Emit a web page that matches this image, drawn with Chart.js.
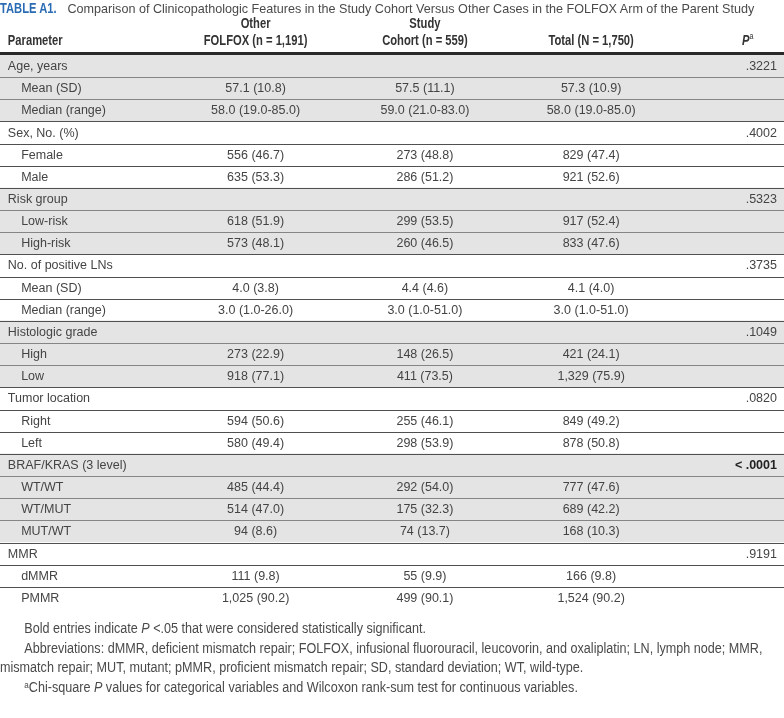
<!DOCTYPE html>
<html>
<head>
<meta charset="utf-8">
<script src="https://cdn.jsdelivr.net/npm/chart.js@4.4.1/dist/chart.umd.min.js"></script>
<style>
  body { margin: 0; background: #fff; }
  #wrap { position: relative; width: 784px; height: 718px; overflow: hidden; }
  #tableChart { position: absolute; left: 0; top: 0; }
  .title { position: absolute; left: 0; top: 0; font: 12.6px "Liberation Sans", Arial, sans-serif; color: #4a4a4a; white-space: nowrap; line-height: 16px; }
  .title b { display: inline-block; font-size: 14px; color: #2a6cb3; transform: scaleX(0.8); transform-origin: left; width: 64px; }
  .notes { position: absolute; left: 0; top: 619px; font: 14px "Liberation Sans", Arial, sans-serif; color: #4a4a4a; line-height: 19.5px; transform: scaleX(0.9); transform-origin: left top; }
  .notes p { margin: 0; text-indent: 27px; white-space: nowrap; }
  .notes sup { font-size: 9px; vertical-align: 4px; line-height: 0; }
</style>
</head>
<body>
<div id="wrap">
  <canvas id="tableChart" width="784" height="718"></canvas>
  <div class="title"><b>TABLE A1.</b> Comparison of Clinicopathologic Features in the Study Cohort Versus Other Cases in the FOLFOX Arm of the Parent Study</div>
  <div class="notes">
    <p>Bold entries indicate <i>P</i> &lt;.05 that were considered statistically significant.</p>
    <p>Abbreviations: dMMR, deficient mismatch repair; FOLFOX, infusional fluorouracil, leucovorin, and oxaliplatin; LN, lymph node; MMR,<br>mismatch repair; MUT, mutant; pMMR, proficient mismatch repair; SD, standard deviation; WT, wild-type.</p>
    <p><sup>a</sup>Chi-square <i>P</i> values for categorical variables and Wilcoxon rank-sum test for continuous variables.</p>
  </div>
</div>
<script>
// Table rows (top to bottom)
const rowLabels = [
    "Age, years", "Mean (SD)", "Median (range)",
    "Sex, No. (%)", "Female", "Male",
    "Risk group", "Low-risk", "High-risk",
    "No. of positive LNs", "Mean (SD)", "Median (range)",
    "Histologic grade", "High", "Low",
    "Tumor location", "Right", "Left",
    "BRAF/KRAS (3 level)", "WT/WT", "WT/MUT", "MUT/WT",
    "MMR", "dMMR", "PMMR"
];
// 1 = section heading row, 0 = indented sub row
const isHeading = [1,0,0, 1,0,0, 1,0,0, 1,0,0, 1,0,0, 1,0,0, 1,0,0,0, 1,0,0];
// 1 = gray shaded section
const shaded = [1,1,1, 0,0,0, 1,1,1, 0,0,0, 1,1,1, 0,0,0, 1,1,1,1, 0,0,0];

const otherFolfox = [
    "", "57.1 (10.8)", "58.0 (19.0-85.0)",
    "", "556 (46.7)", "635 (53.3)",
    "", "618 (51.9)", "573 (48.1)",
    "", "4.0 (3.8)", "3.0 (1.0-26.0)",
    "", "273 (22.9)", "918 (77.1)",
    "", "594 (50.6)", "580 (49.4)",
    "", "485 (44.4)", "514 (47.0)", "94 (8.6)",
    "", "111 (9.8)", "1,025 (90.2)"
];
const studyCohort = [
    "", "57.5 (11.1)", "59.0 (21.0-83.0)",
    "", "273 (48.8)", "286 (51.2)",
    "", "299 (53.5)", "260 (46.5)",
    "", "4.4 (4.6)", "3.0 (1.0-51.0)",
    "", "148 (26.5)", "411 (73.5)",
    "", "255 (46.1)", "298 (53.9)",
    "", "292 (54.0)", "175 (32.3)", "74 (13.7)",
    "", "55 (9.9)", "499 (90.1)"
];
const totalCohort = [
    "", "57.3 (10.9)", "58.0 (19.0-85.0)",
    "", "829 (47.4)", "921 (52.6)",
    "", "917 (52.4)", "833 (47.6)",
    "", "4.1 (4.0)", "3.0 (1.0-51.0)",
    "", "421 (24.1)", "1,329 (75.9)",
    "", "849 (49.2)", "878 (50.8)",
    "", "777 (47.6)", "689 (42.2)", "168 (10.3)",
    "", "166 (9.8)", "1,524 (90.2)"
];
const pValues = [
    ".3221", "", "",
    ".4002", "", "",
    ".5323", "", "",
    ".3735", "", "",
    ".1049", "", "",
    ".0820", "", "",
    "< .0001", "", "", "",
    ".9191", "", ""
];
const significant = [0,0,0, 0,0,0, 0,0,0, 0,0,0, 0,0,0, 0,0,0, 1,0,0,0, 0,0,0];

const columnHeads = [
    ["Other", "FOLFOX (n = 1,191)"],
    ["Study", "Cohort (n = 559)"],
    ["", "Total (N = 1,750)"]
];

// horizontal layout on a 0-100 scale
const colCenters = [32.6, 54.2, 75.4];
const headingX = 1.0, subRowX = 2.7, pRightX = 99.1, pHeadRightX = 96.1;

const bodyFont = '12.5px "Liberation Sans", Arial, sans-serif';
const headFont = 'bold 14px "Liberation Sans", Arial, sans-serif';
const narrow = 0.8;
const textColor = "#444";

// condensed header text: horizontally squeezed Liberation Sans Bold
function narrowText(ctx, text, x, y, align) {
    ctx.save();
    ctx.translate(x, y);
    ctx.scale(narrow, 1);
    ctx.textAlign = align;
    ctx.fillText(text, 0, 0);
    ctx.restore();
}

const tablePlugin = {
    id: "tableText",
    afterDatasetsDraw(chart) {
        const ctx = chart.ctx;
        const xs = chart.scales.x, ys = chart.scales.y;
        const area = chart.chartArea;
        const band = ys.getPixelForValue(1) - ys.getPixelForValue(0);

        ctx.save();
        // row rules
        for (let i = 0; i < rowLabels.length - 1; i++) {
            const yb = Math.round(ys.getPixelForValue(i) + band / 2) + 0.5;
            ctx.strokeStyle = (shaded[i] && shaded[i + 1]) ? "#858585" : "#505050";
            ctx.lineWidth = 1;
            ctx.beginPath();
            ctx.moveTo(area.left, yb);
            ctx.lineTo(area.right, yb);
            ctx.stroke();
        }
        // thick rule under header
        ctx.fillStyle = "#2a2a2a";
        ctx.fillRect(area.left, area.top - 3, area.right - area.left, 3);

        // header text
        ctx.font = headFont;
        ctx.fillStyle = "#333";
        ctx.textBaseline = "middle";
        narrowText(ctx, "Parameter", xs.getPixelForValue(headingX), area.top - 14, "left");
        columnHeads.forEach((h, c) => {
            const cx = xs.getPixelForValue(colCenters[c]);
            if (h[0]) narrowText(ctx, h[0], cx, area.top - 31, "center");
            narrowText(ctx, h[1], cx, area.top - 14, "center");
        });
        // P with superscript a
        const pr = xs.getPixelForValue(pHeadRightX);
        ctx.font = '9px "Liberation Sans", Arial, sans-serif';
        const aw = ctx.measureText("a").width * narrow;
        narrowText(ctx, "a", pr, area.top - 18, "right");
        ctx.font = 'italic bold 14px "Liberation Sans", Arial, sans-serif';
        narrowText(ctx, "P", pr - aw, area.top - 14, "right");

        // body text
        ctx.fillStyle = textColor;
        rowLabels.forEach((label, i) => {
            const y = ys.getPixelForValue(i) + 0.5;
            ctx.font = bodyFont;
            ctx.textAlign = "left";
            ctx.fillText(label, xs.getPixelForValue(isHeading[i] ? headingX : subRowX), y);
            ctx.textAlign = "center";
            [otherFolfox, studyCohort, totalCohort].forEach((col, c) => {
                if (col[i]) ctx.fillText(col[i], xs.getPixelForValue(colCenters[c]), y);
            });
            if (pValues[i]) {
                ctx.textAlign = "right";
                ctx.font = significant[i] ? 'bold 12.5px "Liberation Sans", Arial, sans-serif' : bodyFont;
                ctx.fillStyle = significant[i] ? "#222" : textColor;
                ctx.fillText(pValues[i], xs.getPixelForValue(pRightX), y);
                ctx.fillStyle = textColor;
            }
        });
        ctx.restore();
    }
};

new Chart(document.getElementById("tableChart"), {
    type: "bar",
    data: {
        labels: rowLabels,
        datasets: [{
            data: rowLabels.map(() => 100),
            backgroundColor: shaded.map(s => s ? "#e4e4e4" : "#ffffff"),
            borderWidth: 0,
            barPercentage: 1,
            categoryPercentage: 1,
        }]
    },
    options: {
        indexAxis: "y",
        responsive: false,
        animation: false,
        events: [],
        layout: { padding: { top: 55, bottom: 109, left: 0, right: 0 } },
        scales: {
            x: { type: "linear", min: 0, max: 100, display: false },
            y: { type: "category", display: false }
        },
        plugins: {
            legend: { display: false },
            tooltip: { enabled: false },
        },
    },
    plugins: [tablePlugin],
});
</script>
</body>
</html>
